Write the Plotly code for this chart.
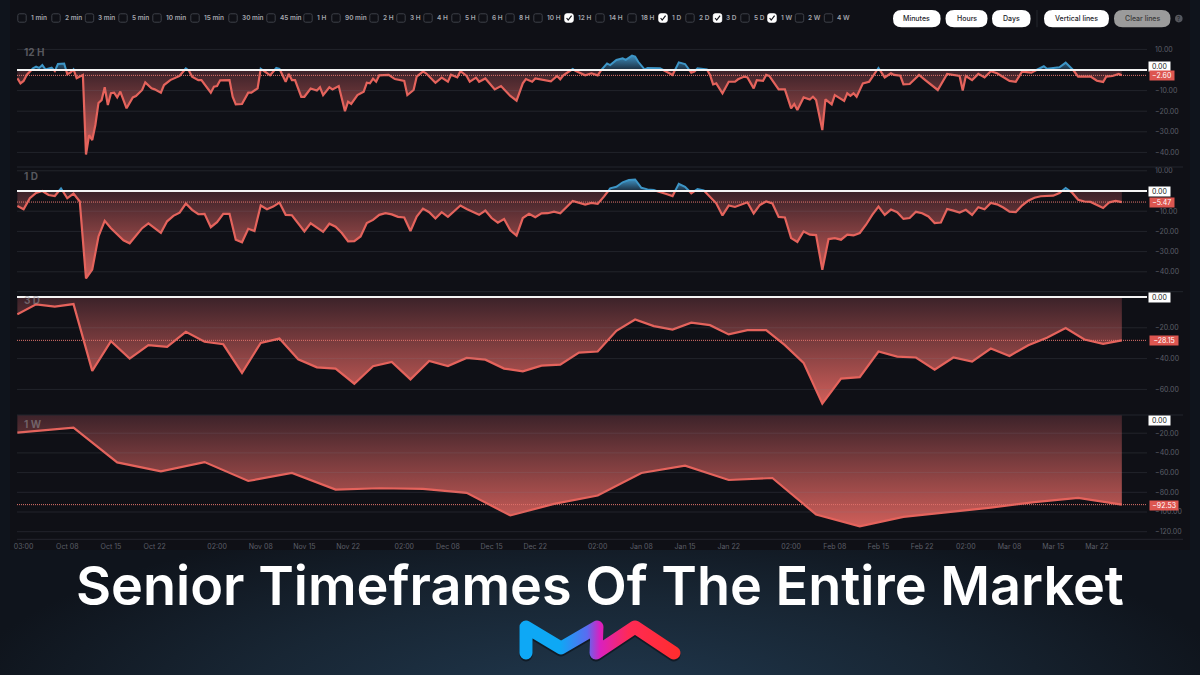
import base64
import numpy as np
import pandas as pd
import plotly.graph_objects as go

# ---------------------------
# Data (days counted from Oct 1)
# ---------------------------
h12_days = [-1, -0.5, 0, 0.5, 1.5, 2, 2.5, 3, 3.5, 4.5, 5, 5.5, 6.5, 7, 7.5, 8, 8.5, 9.5, 10, 10.5, 11, 11.5, 12, 12.5,
            13, 13.5, 14, 14.5, 15, 15.5, 16.5, 17.5, 18, 19, 19.5, 20.5, 21, 22, 22.5, 23.5, 24.5, 25, 26, 26.5, 27,
            28, 28.5, 30, 30.5, 31, 31.5, 33, 33.5, 34, 35, 36, 36.5, 37.5, 38, 39, 39.5, 40.5, 41, 42, 42.5, 43, 43.5,
            44.5, 45, 46, 47, 47.5, 48, 49, 49.5, 50.5, 51.5, 52, 52.5, 53.5, 54.5, 55, 55.5, 56, 56.5, 57, 58.5, 59.5,
            61, 61.5, 62.5, 63, 64, 64.5, 66, 67, 68, 68.5, 69.5, 70, 71, 71.5, 72.5, 73, 74, 75, 75.5, 76.5, 78, 79,
            80, 80.5, 81.5, 82, 83.5, 84.5, 85.5, 86, 86.5, 87.5, 88, 88.5, 90, 91, 92,
            92.5, 93.5, 94, 95, 96, 96.5, 97.5, 98, 98.5, 99.5, 100, 101.5, 102, 103, 104, 105, 106, 107, 107.5, 108,
            109.5, 110, 110.5, 111, 112, 113, 114, 114.5, 115.5, 116, 117, 117.5, 118.5, 119, 119.5, 121, 122, 123,
            123.5, 124, 125, 126, 126.5, 127, 128, 128.5, 129.5, 130, 131.5, 132, 132.5, 133, 133.5, 134.5, 135.5, 137,
            138, 139, 139.5, 140.5, 141, 142, 143.5, 144.5, 146.5, 148, 150, 150.5, 151, 152, 153, 154, 155, 156, 158,
            159, 160, 161.5, 162.5, 163.5, 164, 166, 167, 168, 169, 171, 172, 173, 173.5, 174.5, 175.5, 176]
h12_values = [-4, -6.5, -5.3, -2.4, 0.8, 1.6, 1, 2.4, 0.3, 1.1, -0.5, 2.9, 3.1, -2, -1.3, 0.3, -4, -2.4, -41, -31.6, -34,
              -26.7, -16, -14.6, -8.4, -17, -11.3, -11, -13.3, -10.5, -18.6, -13.3, -12.6, -9.7, -6, -8.9, -9.4, -11,
              -7.3, -4.9, -3.6, -2.9, 0.8, -0.3, -3.2, -4.9, -4.9, -11, -8.1, -7.8, -5, -4.9, -13, -16.7, -16.5, -11,
              -11, -8.9, 0.6, -1.3, -2.6, 1, 0.6, -5.7, -1.9, -4.9, -4.9, -13, -13, -9, -10, -8.4, -12.2, -8.4, -9.4,
              -7.8, -20, -15.4, -16.5, -12.2, -10.5, -6.2, -6.5, -4.2, -5.7, -2.6, -2.4, -4.4, -5.3, -12.2, -9.7, -3.2,
              -0.8, -1.6, -6.2, -3.7, -5.7, -2.3, -3.6, -0.6, -2.9, -5.7, -3.7, -5.7, -4.1, -7.3, -9.4, -7.8, -12.6,
              -14.9, -6.5, -4.4, -5.7, -4.1, -4.9, -5.5, -2.9, -4.5, -2.6, -0.5, 0.5, -0.5, -2.6, -1.6, -2.6,
              -0.3, 3.2, 2.4, 4.9, 5.7, 4.9, 7, 6.5, 4, 0.3, 1, 1.1, 0.8, -0.8, -2.4, 3.7, 2.9, -1.3, -0.8, 0.8,
              0.3, -2.4, -7, -6.5, -11.3, -5.7, -5.7, -4.5, -3.2, -3.6, -8.9, -4.9, -5.3, -2.4, -2.9, -9.4, -9.4, -18.6,
              -16.5, -19.4, -13.3, -14.3, -13, -14.6, -29.2, -14.3, -16.7, -12.2, -15, -11.3, -12.5, -11.3, -13, -6.5,
              -5.7, 1, -3.6, -1.6, -2.4, -2.8, -7, -6.8, -2.4, -4.9, -9.7, -1.9, -2.9, -10, -2.9, -4.9, -1.9, -3.6,
              -0.6, -1.6, -5.3, -5.7, -0.8, -1.3, 0.3, 1.8, 0.6, 1.3, 3.6, 0.8, -3.2, -3.2, -5.2, -5.8, -3.2, -2.9,
              -1.9, -2.6]

d1_days = [-1, 0, 1, 2, 3, 4, 5, 6, 7, 8, 9, 10, 11, 12, 13, 14, 15, 16, 17, 19, 20, 21, 22, 23, 24, 25, 26, 27, 28, 29,
           30, 31, 32, 33, 34, 35, 36, 37, 38, 39, 40, 41, 42, 43, 44, 45, 46, 47, 48, 49, 50, 51, 52, 53, 54, 55, 56,
           57, 58, 59, 60, 61, 62, 63, 64, 65, 66, 67, 68, 70, 71, 73, 74, 75, 76, 77, 78, 79, 80, 81, 82, 83, 84, 85,
           86, 88, 89, 90, 91, 92, 93, 94, 95, 96, 97, 98, 99, 100, 101, 102, 103, 104, 105, 106, 107, 108, 109, 110,
           111, 112, 113, 114, 115, 116, 117, 118, 119, 120, 121, 122, 123, 124, 125, 126, 127, 128, 129, 130, 131, 132,
           133, 134, 135, 136, 137, 138, 139, 140, 141, 142, 143, 144, 145, 146, 147, 148, 149, 150, 151, 152, 153, 154,
           155, 156, 157, 158, 159, 160, 161, 162, 163, 164, 165, 166, 167, 168, 169, 170, 171, 172, 173, 174, 175, 176]
d1_values = [-7.4, -9, -3.6, -1, 0, -2, -2.5, 1.3, -3.6, -1.3, -5.2, -43.3, -38.9, -22.5, -14.8, -18.4, -21.6, -24.4,
             -25.9, -18.4, -16, -18.4, -20.7, -15, -12.3, -10.7, -6.2, -9.3, -11.5, -11.3, -17.9, -15.4, -11.3, -11.3,
             -24.1, -25.4, -18.7, -19.8, -7.2, -9, -7.7, -5.7, -11.8, -12, -15.9, -20, -16, -18, -20.2, -16.2, -17.7,
             -20.8, -24.9, -24.8, -22.5, -15.9, -14.3, -11.8, -11, -11.6, -12.8, -13.1, -19.8, -12.6, -8.7, -10.5,
             -13.6, -10.5, -12.8, -7.2, -8.9, -11.8, -9.7, -13.4, -15.7, -13.9, -19.5, -22.1, -13.4, -11.3, -13, -11.1,
             -11, -10.2, -11, -4.9, -5.7, -6.7, -5.9, -6.4, -2.8, 1.3, 2.1, 4.3, 5.4, 5.7, 1.6, 0.8, 0.5, -0.7, -1.5,
             -2.5, 3.6, 2.1, -1.1, 1, 0.3, -2.8, -6.1, -12.1, -7.2, -7.9, -6.6, -5.6, -11.1, -6.9, -5.2, -6.2, -12.8,
             -13.1, -23.3, -25.2, -20, -21.6, -21.8, -39, -23.8, -23.3, -24.1, -21.6, -22, -20.8, -16.7, -11.8, -7.7,
             -11.8, -9.2, -10.5, -13.8, -13.4, -10.3, -11, -12.6, -15.9, -15.6, -8.9, -9.7, -10.7, -9.3, -11.8, -8, -9,
             -5.9, -6.6, -8.2, -10.2, -10.5, -7.2, -4.8, -3.3, -2.6, -2.5, -2.3, -1, 1.5, -0.7, -4.3, -5.2, -5.4, -6.9,
             -8.4, -5.6, -4.9, -5.47]

d3_days = [-1, 2, 5, 8, 11, 14, 17, 20, 23, 26, 29, 32, 35, 38, 41, 44, 47, 50, 53, 56, 59, 62, 65, 68, 71, 74, 77, 80,
           83, 86, 89, 92, 95, 98, 101, 104, 107, 110, 113, 116, 119, 122, 125, 128, 131, 134, 137, 140, 143, 146, 149,
           152, 155, 158, 161, 164, 167, 170, 173, 176]
d3_values = [-11.3, -4.8, -6.3, -4.6, -48, -28.7, -40, -31.3, -32.4, -22.6, -29.1, -30.7, -49.3, -29.8, -27, -40.4, -45.7,
             -46.5, -56.3, -45, -42.2, -53.5, -41.5, -44.8, -39.6, -40.7, -46.5, -48.3, -44.6, -43.9, -36.1, -35.4, -22,
             -14.6, -18.9, -21.1, -16.7, -18.3, -24.3, -21.5, -21.5, -31.3, -42.8, -69.3, -53, -52, -35.4, -38.7, -39.3,
             -47.2, -39.3, -42, -33.5, -38.3, -31.3, -26.5, -20.2, -27.6, -30.4, -28.15]

w1_days = [-1, 8, 15, 22, 29, 36, 43, 50, 57, 64, 71, 78, 85, 92, 99, 106, 113, 120, 127, 134, 141, 148, 155, 162, 169, 176]
w1_values = [-19.4, -14.3, -49.7, -58.8, -49.3, -68.5, -60.4, -77.3, -75.9, -76.6, -80.6, -103.5, -91.8, -83.3, -60.4,
             -53, -67.5, -65.5, -102.5, -114.6, -104.9, -100.2, -95.5, -90, -85.7, -92.53]

panel_names = ["12 H", "1 D", "3 D", "1 W"]
panel_series = [(h12_days, h12_values), (d1_days, d1_values), (d3_days, d3_values), (w1_days, w1_values)]
# zero has its own white tag, so it is left out of the axis ticks
panel_ticks = [[10, -10, -20, -30, -40],
               [10, -10, -20, -30, -40],
               [-20, -40, -60],
               [-20, -40, -60, -80, -100, -120]]
# pixel box of each panel and where zero sits + px per unit
panel_top = [43, 168, 292, 415]
panel_bottom = [167, 291.7, 415, 539.3]
panel_zero = [70, 191, 297, 413.5]
panel_scale = [2.06, 2.02, 1.54, 0.985]
zero_tag_y = [66.7, 191, 297.5, 420.5]
name_y = [52, 176, 300, 424]

date_ticks = ["2024-10-01", "2024-10-08", "2024-10-15", "2024-10-22", "2024-11-01", "2024-11-08", "2024-11-15",
              "2024-11-22", "2024-12-01", "2024-12-08", "2024-12-15", "2024-12-22", "2025-01-01", "2025-01-08",
              "2025-01-15", "2025-01-22", "2025-02-01", "2025-02-08", "2025-02-15", "2025-02-22", "2025-03-01",
              "2025-03-08", "2025-03-15", "2025-03-22"]
date_labels = ["03:00", "Oct 08", "Oct 15", "Oct 22", "02:00", "Nov 08", "Nov 15", "Nov 22", "02:00", "Dec 08", "Dec 15",
               "Dec 22", "02:00", "Jan 08", "Jan 15", "Jan 22", "02:00", "Feb 08", "Feb 15", "Feb 22", "02:00",
               "Mar 08", "Mar 15", "Mar 22"]

timeframes = ["1 min", "2 min", "3 min", "5 min", "10 min", "15 min", "30 min", "45 min", "1 H", "90 min", "2 H", "3 H",
              "4 H", "5 H", "6 H", "8 H", "10 H", "12 H", "14 H", "18 H", "1 D", "2 D", "3 D", "5 D", "1 W", "2 W", "4 W"]
timeframe_x = [22, 56, 89.5, 123, 157, 195, 233, 271, 308, 336, 374, 401, 428, 456, 483, 510, 538, 569, 600, 632, 663,
               690, 717.5, 745, 772, 799.5, 828.5]
checked = ["12 H", "1 D", "3 D", "1 W"]

buttons = ["Minutes", "Hours", "Days", "Vertical lines", "Clear lines"]
button_x0 = [893, 945.5, 992, 1044, 1114]
button_x1 = [940.6, 987.5, 1030.6, 1109, 1170.5]

FONT = "Inter"
RED = "#e5635c"
BLUE = "#3d95c6"
GREY = "#5c5f68"
BASE = pd.Timestamp("2024-10-01")
X_LEFT, X_RIGHT = 17, 1147


def px(x):
    return x / 1200


def py(y):
    return 1 - y / 675


def to_date(days):
    return BASE + pd.to_timedelta(np.asarray(days, dtype=float), unit="D")


def px_to_date(x):
    return BASE + pd.Timedelta(days=(x - 23.6) / 6.24)


def add_zero_crossings(days, values):
    # extra points where the series crosses zero so colours switch cleanly
    xs, ys = [days[0]], [values[0]]
    for i in range(1, len(days)):
        a, b = values[i - 1], values[i]
        if a * b < 0:
            xs.append(days[i - 1] + (days[i] - days[i - 1]) * a / (a - b))
            ys.append(0.0)
        xs.append(days[i])
        ys.append(b)
    return np.array(xs), np.array(ys)


def rounded_rect(x0, y0, x1, y1, r):
    x0, x1 = px(x0), px(x1)
    y0, y1 = py(y0), py(y1)
    rx, ry = px(r), r / 675
    return (f"M {x0 + rx} {y0} L {x1 - rx} {y0} Q {x1} {y0} {x1} {y0 - ry} L {x1} {y1 + ry} "
            f"Q {x1} {y1} {x1 - rx} {y1} L {x0 + rx} {y1} Q {x0} {y1} {x0} {y1 + ry} L {x0} {y0 - ry} "
            f"Q {x0} {y0} {x0 + rx} {y0} Z")


def label(x, y, text, size, color, xanchor="center", yref="paper", weight=400, **extra):
    return dict(xref="paper", yref=yref, x=x, y=y, text=text, showarrow=False, xanchor=xanchor, yanchor="middle",
                font=dict(family=FONT, size=size, color=color, weight=weight), **extra)


# ---------------------------
# Backdrop and logo as one svg
# ---------------------------
svg = """<svg xmlns='http://www.w3.org/2000/svg' width='1200' height='675' viewBox='0 0 1200 675'>
<defs>
<radialGradient id='glow' gradientUnits='userSpaceOnUse' cx='0' cy='0' r='1' gradientTransform='translate(600 700) scale(640 190)'>
<stop offset='0' stop-color='#20384e'/><stop offset='0.55' stop-color='#182634'/><stop offset='1' stop-color='#0f141c'/>
</radialGradient>
<linearGradient id='logo' gradientUnits='userSpaceOnUse' x1='520' y1='0' x2='680' y2='0'>
<stop offset='0.25' stop-color='#0ea8f5'/><stop offset='0.42' stop-color='#5a6cf0'/>
<stop offset='0.5' stop-color='#d920c0'/><stop offset='0.68' stop-color='#ff2a55'/><stop offset='1' stop-color='#ff2d2d'/>
</linearGradient>
</defs>
<rect width='1200' height='675' fill='url(#glow)'/>
<rect x='10' y='0' width='1180' height='550' fill='#0f1016'/>
<polyline points='526,655 526,629 561,650 597,629 596,655 635,629 674,655' fill='none' stroke='#0a0e14' stroke-opacity='0.6'
 stroke-width='13' stroke-linecap='round' stroke-linejoin='round'/>
<polyline points='526,653 526,627 561,648 597,627 596,653 635,627 674,653' fill='none' stroke='url(#logo)'
 stroke-width='13' stroke-linecap='round' stroke-linejoin='round'/>
</svg>"""
svg_uri = "data:image/svg+xml;base64," + base64.b64encode(svg.encode()).decode()

fig = go.Figure()
shapes = []
annotations = []
layout_axes = {}

# ---------------------------
# The four panels
# ---------------------------
for i, name in enumerate(panel_names):
    suffix = "" if i == 0 else str(i + 1)
    xname, yname = "x" + suffix, "y" + suffix
    days, values = panel_series[i]
    xs, ys = add_zero_crossings(days, values)
    dates = to_date(xs)
    last = values[-1]

    if ys.max() > 0:
        fig.add_trace(go.Scatter(
            x=dates, y=np.maximum(ys, 0), xaxis=xname, yaxis=yname, mode="none", fill="tozeroy",
            fillgradient=dict(type="vertical", colorscale=[[0, "#1a2c3d"], [1, "#3f8fbf"]]),
            hoverinfo="skip", showlegend=False))
        fig.add_trace(go.Scatter(
            x=dates, y=np.where(ys < 0, np.nan, ys), xaxis=xname, yaxis=yname, mode="lines",
            line=dict(color=BLUE, width=2), connectgaps=False, hoverinfo="skip", showlegend=False))
    fig.add_trace(go.Scatter(
        x=dates, y=np.minimum(ys, 0), xaxis=xname, yaxis=yname, mode="none", fill="tozeroy",
        fillgradient=dict(type="vertical", colorscale=[[0, "#cf5f5a"], [1, "#3b2229"]]),
        hoverinfo="skip", showlegend=False))
    fig.add_trace(go.Scatter(
        x=dates, y=np.where(ys > 0, np.nan, ys), xaxis=xname, yaxis=yname, mode="lines",
        line=dict(color=RED, width=2.2), connectgaps=False, hoverinfo="skip", showlegend=False))

    y_top = (panel_zero[i] - panel_top[i]) / panel_scale[i]
    y_bottom = -(panel_bottom[i] - panel_zero[i]) / panel_scale[i]
    layout_axes["yaxis" + suffix] = dict(
        domain=[py(panel_bottom[i]), py(panel_top[i])], range=[y_bottom, y_top], anchor=xname, side="right",
        tickvals=panel_ticks[i], tickformat=".2f", tickfont=dict(family=FONT, size=7, color=GREY),
        showgrid=False, zeroline=False, showline=False, ticks="", ticklabelstandoff=7)
    layout_axes["xaxis" + suffix] = dict(
        domain=[px(X_LEFT), px(X_RIGHT)], range=[px_to_date(X_LEFT), px_to_date(X_RIGHT)], anchor=yname,
        type="date", showgrid=False, zeroline=False, showline=False, ticks="",
        visible=i == 3, tickvals=date_ticks, ticktext=date_labels, ticklabelstandoff=2,
        tickfont=dict(family=FONT, size=7, color=GREY))

    # gridlines sit on top of the fill, faintly
    for tick in panel_ticks[i]:
        shapes.append(dict(type="line", xref=f"x{suffix} domain", yref=yname, x0=0, x1=1, y0=tick, y1=tick,
                           line=dict(color="rgba(130,135,150,0.17)", width=1)))

    # white zero line, dotted last value line
    if i < 3:
        shapes.append(dict(type="line", xref=f"x{suffix} domain", yref=yname,
                           x0=0, x1=1, y0=0, y1=0, line=dict(color="#f4f4f4", width=2)))
    shapes.append(dict(type="line", xref=f"x{suffix} domain", yref=yname,
                       x0=0, x1=1, y0=last, y1=last, line=dict(color="#e0736c", width=1, dash="1px,1px")))
    # panel separators
    shapes.append(dict(type="line", xref="paper", yref="paper", x0=px(17), x1=px(1183),
                       y0=py(panel_bottom[i]), y1=py(panel_bottom[i]), line=dict(color="#23252d", width=1)))

    # zero and last value tags
    annotations.append(label(px(1159.5), py(zero_tag_y[i]), "0.00", 7, "#222222", bgcolor="#ffffff", width=21, height=9,
                             borderpad=0))
    last_text = f"{last:.2f}".replace("-", "−")
    annotations.append(label(px(1148.5), last, last_text, 7, "#ffffff", xanchor="left", yref=yname,
                             bgcolor="#dd5650", height=9, borderpad=0, yshift=-0.5, width=4.7 * len(last_text)))
    annotations.append(label(px(22), py(name_y[i]), f"<b>{name}</b>", 10, "rgba(150,150,156,0.55)", xanchor="left"))

# ---------------------------
# Timeframe checkboxes and buttons
# ---------------------------
for name, x in zip(timeframes, timeframe_x):
    on = name in checked
    shapes.append(dict(type="path", xref="paper", yref="paper", path=rounded_rect(x - 4.2, 13.8, x + 4.2, 22.2, 1.8),
                       fillcolor="#ffffff" if on else "rgba(0,0,0,0)",
                       line=dict(color="#ffffff" if on else "#3e4149", width=1)))
    if on:
        shapes.append(dict(type="path", xref="paper", yref="paper",
                           path=f"M {px(x - 2.4)} {py(18)} L {px(x - 0.8)} {py(20)} L {px(x + 2.6)} {py(15.6)}",
                           line=dict(color="#14151b", width=1.2)))
    annotations.append(label(px(x + 6.8), py(18.3), name, 6.5, "#a4a6ad", xanchor="left", weight=600))

for name, x0, x1 in zip(buttons, button_x0, button_x1):
    clear = name == "Clear lines"
    shapes.append(dict(type="path", xref="paper", yref="paper", path=rounded_rect(x0, 10, x1, 27.3, 8.6),
                       fillcolor="#9b9b9b" if clear else "#ffffff", line=dict(width=0)))
    annotations.append(label(px((x0 + x1) / 2), py(18.5), name, 7, "#3a3a3a" if clear else "#23242a", weight=500))

shapes.append(dict(type="line", xref="paper", yref="paper", x0=px(1037), x1=px(1037), y0=py(10), y1=py(27.3),
                   line=dict(color="#24262d", width=1)))
shapes.append(dict(type="circle", xref="paper", yref="paper", x0=px(1175), x1=px(1182.6), y0=py(22.4), y1=py(14.8),
                   fillcolor="#55575e", line=dict(width=0)))
annotations.append(label(px(1178.8), py(18.6), "?", 6, "#1b1c22"))

# title
annotations.append(label(0.5, py(585), "Senior Timeframes Of The Entire Market", 54, "#ffffff", weight=600))

fig.update_layout(
    width=1200, height=675, margin=dict(l=0, r=0, t=0, b=0, autoexpand=False),
    paper_bgcolor="#0f141c", plot_bgcolor="rgba(0,0,0,0)", showlegend=False,
    images=[dict(source=svg_uri, xref="paper", yref="paper", x=0, y=1, sizex=1, sizey=1,
                 xanchor="left", yanchor="top", sizing="stretch", layer="below")],
    shapes=shapes, annotations=annotations, **layout_axes)

fig.write_html("out.html", config=dict(displayModeBar=False),
               post_script="document.body.style.margin='0';window.dispatchEvent(new Event('resize'));")
